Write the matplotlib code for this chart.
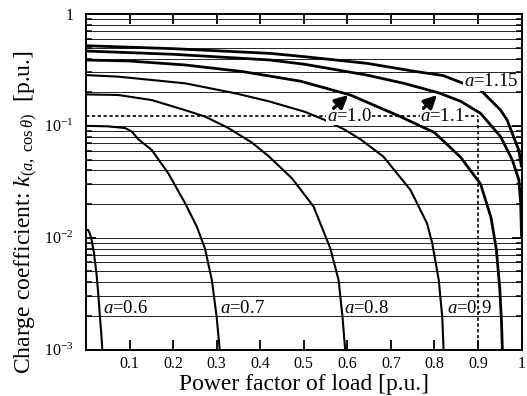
import matplotlib
matplotlib.use("Agg")
import matplotlib.pyplot as plt
from matplotlib.ticker import FixedLocator, FixedFormatter, LogLocator, NullFormatter

plt.rcParams['font.family'] = ['Liberation Serif', 'DejaVu Serif']
plt.rcParams['mathtext.fontset'] = 'custom'
plt.rcParams['mathtext.rm'] = 'Liberation Serif'
plt.rcParams['mathtext.it'] = 'Liberation Serif:italic'

# curves: power factor -> charge coefficient
a06_x = [0.0, 0.005, 0.009, 0.013, 0.018, 0.024, 0.028, 0.032, 0.035, 0.0375]
a06_y = [0.0118, 0.0117, 0.0108, 0.0095, 0.0074, 0.0048, 0.0032, 0.00195, 0.0014, 0.001]

a07_x = [0.0, 0.05, 0.09, 0.105, 0.12, 0.151, 0.189, 0.2276, 0.2545, 0.273, 0.289, 0.30, 0.307]
a07_y = [0.100, 0.099, 0.0955, 0.089, 0.076, 0.0608, 0.0376, 0.0203, 0.01253, 0.00804, 0.00417, 0.00195, 0.001]

a08_x = [0.0, 0.074, 0.151, 0.228, 0.274, 0.327, 0.381, 0.419, 0.473, 0.5225, 0.561, 0.58, 0.589, 0.595]
a08_y = [0.191, 0.1888, 0.170, 0.138, 0.1208, 0.0955, 0.0708, 0.0537, 0.0339, 0.019, 0.00802, 0.00417, 0.00195, 0.001]

a09_x = [0.0, 0.074, 0.228, 0.343, 0.419, 0.503, 0.55, 0.592, 0.63, 0.683, 0.745, 0.783, 0.795, 0.81, 0.818, 0.821]
a09_y = [0.2844, 0.2754, 0.2399, 0.1954, 0.166, 0.1334, 0.1122, 0.0933, 0.0759, 0.053, 0.0267, 0.01343, 0.00891, 0.00417, 0.00195, 0.001]

a10_x = [0.0, 0.1, 0.228, 0.36, 0.492, 0.607, 0.722, 0.80, 0.86, 0.906, 0.93, 0.942, 0.95, 0.954, 0.956]
a10_y = [0.388, 0.380, 0.350, 0.3055, 0.251, 0.1888, 0.1208, 0.0871, 0.0525, 0.0302, 0.0151, 0.00794, 0.00355, 0.00178, 0.001]

a11_x = [0.0, 0.2, 0.423, 0.503, 0.645, 0.73, 0.81, 0.86, 0.906, 0.952, 0.979, 0.994, 0.998, 1.0]
a11_y = [0.4667, 0.4365, 0.388, 0.3548, 0.2844, 0.2399, 0.1972, 0.166, 0.1294, 0.080, 0.0494, 0.0327, 0.0204, 0.0102]

a115_x = [0.0, 0.2, 0.423, 0.503, 0.645, 0.76, 0.82, 0.906, 0.952, 0.967, 0.982, 0.994, 1.0]
a115_y = [0.5205, 0.490, 0.4446, 0.415, 0.3622, 0.3048, 0.2818, 0.2089, 0.1384, 0.1127, 0.0794, 0.0603, 0.0427]

# curve labels: text, x, y
labels_low = [('0.6', 0.039), ('0.7', 0.308), ('0.8', 0.5915), ('0.9', 0.829)]
label_low_y = 0.00234
labels_high = [('1.0', 0.553, 0.1224), ('1.1', 0.768, 0.1224), ('1.15', 0.867, 0.248)]
arrows = [((0.5685, 0.1435), (0.602, 0.1886)), ((0.775, 0.1435), (0.806, 0.1886))]

ref_pf = 0.9
ref_k = 0.1224

xticks = [0.1, 0.2, 0.3, 0.4, 0.5, 0.6, 0.7, 0.8, 0.9, 1.0]
xticklabels = ['0.1', '0.2', '0.3', '0.4', '0.5', '0.6', '0.7', '0.8', '0.9', '1']
yticks = [1e-3, 1e-2, 1e-1, 1.0]
yticklabels = ['10$^{-3}$', '10$^{-2}$', '10$^{-1}$', '1']

fig = plt.figure(figsize=(5.27, 3.96), dpi=100)
ax = fig.add_axes([0.1632, 0.1174, 0.8264, 0.8472])
ax.set_yscale('log')
ax.set_xlim(0, 1)
ax.set_ylim(1e-3, 1)

ax.grid(True, which='both', axis='y', color='#222222', lw=0.7)
ax.set_axisbelow(True)

thin = [(a06_x, a06_y), (a07_x, a07_y), (a08_x, a08_y), (a09_x, a09_y)]
thick = [(a10_x, a10_y), (a11_x, a11_y), (a115_x, a115_y)]
for xs, ys in thin:
    ax.plot(xs, ys, color='black', lw=1.5, solid_capstyle='butt', solid_joinstyle='round', zorder=3)
for xs, ys in thick:
    ax.plot(xs, ys, color='black', lw=2.0, solid_capstyle='butt', solid_joinstyle='round', zorder=3)

ax.plot([0, ref_pf], [ref_k, ref_k], color='black', lw=1.2, ls=(0, (2, 1.5)), zorder=2)
ax.plot([ref_pf, ref_pf], [1e-3, ref_k], color='black', lw=1.2, ls=(0, (2, 1.5)), zorder=2)

box = dict(facecolor='white', edgecolor='none', pad=0.3)
for txt, x in labels_low:
    ax.text(x, label_low_y, '$a$=' + txt, fontsize=13.5, ha='left', va='center', zorder=4)
for txt, x, y in labels_high:
    ax.text(x, y, '$a$=' + txt, fontsize=13.5, ha='left', va='center', bbox=box, zorder=4)
for tail, tip in arrows:
    ax.annotate('', xy=tip, xytext=tail,
                arrowprops=dict(arrowstyle='-|>', color='black', lw=2.4, mutation_scale=19,
                                shrinkA=0, shrinkB=0), zorder=5)

ax.xaxis.set_major_locator(FixedLocator(xticks))
ax.xaxis.set_major_formatter(FixedFormatter(xticklabels))
ax.yaxis.set_major_locator(FixedLocator(yticks))
ax.yaxis.set_major_formatter(FixedFormatter(yticklabels))
ax.yaxis.set_minor_locator(LogLocator(base=10, subs=[2, 3, 4, 5, 6, 7, 8, 9]))
ax.yaxis.set_minor_formatter(NullFormatter())

ax.tick_params(axis='x', which='major', direction='in', length=7, width=1.3, top=True,
               labelsize=11.5, pad=5)
ax.tick_params(axis='y', which='major', direction='in', length=7, width=1.3, right=True,
               labelsize=11.5, pad=9)
ax.tick_params(axis='y', which='minor', direction='in', length=4, width=1.1, right=True)
for s in ax.spines.values():
    s.set_linewidth(1.4)

ax.set_xlabel('Power factor of load [p.u.]', fontsize=17, labelpad=1)
ax.set_ylabel(r'Charge coefficient: $k_{(a,\ \cos\theta)}$  [p.u.]', fontsize=17)
ax.yaxis.set_label_coords(-0.105, 0.41)

fig.savefig('out.png', dpi=100)
